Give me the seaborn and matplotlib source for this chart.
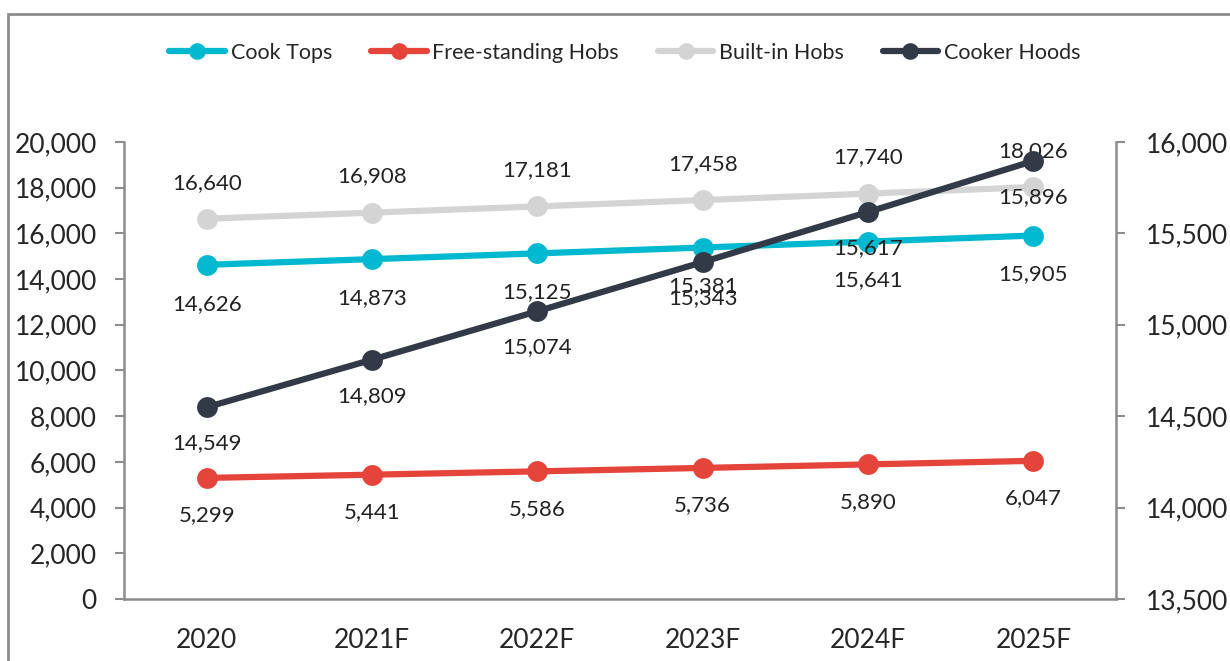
import pandas as pd
import matplotlib.pyplot as plt
import seaborn as sns
from matplotlib.patches import Rectangle
from matplotlib.ticker import FuncFormatter, MultipleLocator

years = ["2020", "2021F", "2022F", "2023F", "2024F", "2025F"]
cook_tops = [14626, 14873, 15125, 15381, 15641, 15905]
free_hobs = [5299, 5441, 5586, 5736, 5890, 6047]
builtin_hobs = [16640, 16908, 17181, 17458, 17740, 18026]
cooker_hoods = [14549, 14809, 15074, 15343, 15617, 15896]

colors = {"Cook Tops": "#00B8CF", "Free-standing Hobs": "#E5443A",
          "Built-in Hobs": "#D4D4D4", "Cooker Hoods": "#323A48"}

sns.set_style("white")
plt.rcParams['font.family'] = ['Lato', 'DejaVu Sans']

left = pd.DataFrame({"Year": years * 3,
                     "Value": cook_tops + free_hobs + builtin_hobs,
                     "Series": ["Cook Tops"] * 6 + ["Free-standing Hobs"] * 6 + ["Built-in Hobs"] * 6})
right = pd.DataFrame({"Year": years, "Value": cooker_hoods, "Series": "Cooker Hoods"})

fig = plt.figure(figsize=(12.3, 6.61), dpi=100)
ax = fig.add_axes([0.1008, 0.0938, 0.8065, 0.6914])
ax2 = ax.twinx()

sns.lineplot(data=left, x="Year", y="Value", hue="Series", palette=colors, sort=False,
             marker="o", markersize=15, markeredgewidth=0, linewidth=4.5, ax=ax, legend=False)
sns.lineplot(data=right, x="Year", y="Value", hue="Series", palette=colors, sort=False,
             marker="o", markersize=15, markeredgewidth=0, linewidth=4.5, ax=ax2, legend=False)

ax.set_ylim(0, 20000)
ax.yaxis.set_major_locator(MultipleLocator(2000))
ax2.set_ylim(13500, 16000)
ax2.yaxis.set_major_locator(MultipleLocator(500))
ax.set_xlim(-0.5, 5.5)

fmt = FuncFormatter(lambda v, p: f"{v:,.0f}")
ax.yaxis.set_major_formatter(fmt)
ax2.yaxis.set_major_formatter(fmt)

for a in (ax, ax2):
    a.set_xlabel("")
    a.set_ylabel("")
    for s in a.spines.values():
        s.set_visible(False)
ax.spines["left"].set_visible(True)
ax.spines["bottom"].set_visible(True)
ax2.spines["right"].set_visible(True)
for s in (ax.spines["left"], ax.spines["bottom"], ax2.spines["right"]):
    s.set_color("#8C8C8C")
    s.set_linewidth(1.8)

ax.tick_params(axis="y", direction="out", length=6.5, width=1.5, color="#8C8C8C",
               labelsize=19, pad=13, left=True)
ax2.tick_params(axis="y", direction="out", length=6.5, width=1.5, color="#8C8C8C",
                labelsize=19, pad=15, right=True)
ax.tick_params(axis="x", length=0, labelsize=19, pad=21)

# data labels
def label(a, vals, dy):
    for i, v in enumerate(vals):
        a.annotate(f"{v:,}", (i, v), xytext=(0, dy), textcoords="offset points",
                   ha="center", va="center", fontsize=16, color="#222222")

label(ax, cook_tops, -28)
label(ax, free_hobs, -27)
label(ax, builtin_hobs, 26)
label(ax2, cooker_hoods, -26)

# legend
handles = [plt.Line2D([], [], color=colors[n], marker="o", markersize=12, linewidth=4.5,
                      markeredgewidth=0) for n in colors]
fig.legend(handles, list(colors), loc="center", bbox_to_anchor=(0.508, 0.92), ncol=4,
           frameon=False, fontsize=15.5, handlelength=2.6, handletextpad=0.25,
           columnspacing=1.8)

# outer chart frame
fig.patches.append(Rectangle((8 / 1230, -0.1), 1.2, (661 - 14) / 661 + 0.1,
                             transform=fig.transFigure, fill=False,
                             edgecolor="#8C8C8C", linewidth=2))

fig.savefig("out.png", dpi=100)
